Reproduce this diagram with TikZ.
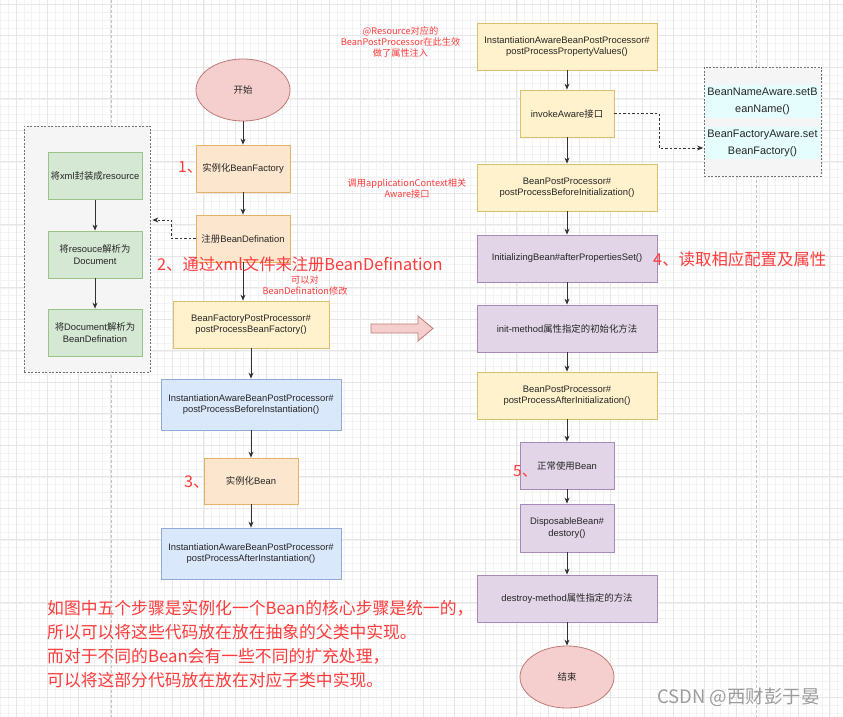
\documentclass[tikz,border=0pt]{standalone}
\usepackage{fontspec}
\setmainfont{Liberation Sans}
\newfontfamily\cjk{Noto Sans CJK SC}
\usetikzlibrary{shapes.geometric,arrows.meta}
\definecolor{orfill}{HTML}{FCE6CD}
\definecolor{orline}{HTML}{E2B266}
\definecolor{yefill}{HTML}{FFF2CC}
\definecolor{yeline}{HTML}{DCC070}
\definecolor{blfill}{HTML}{DAE8FC}
\definecolor{blline}{HTML}{91ABD6}
\definecolor{pufill}{HTML}{E1D5E7}
\definecolor{puline}{HTML}{A68BBA}
\definecolor{grfill}{HTML}{D5E8D4}
\definecolor{grline}{HTML}{9CC387}
\definecolor{pkfill}{HTML}{F5CFCD}
\definecolor{pkline}{HTML}{C07A76}
\definecolor{gpfill}{HTML}{F5F5F5}
\definecolor{gpline}{HTML}{707070}
\definecolor{cyfill}{HTML}{E6FDFE}
\definecolor{redt}{HTML}{FF3B3B}
\definecolor{txt}{HTML}{262626}
\definecolor{arrowc}{HTML}{333333}
\definecolor{gridmin}{HTML}{F3F3F3}
\definecolor{gridmaj}{HTML}{E6E6E6}
\definecolor{pageline}{HTML}{C4C4C4}
\definecolor{wmark}{HTML}{9C9C9C}
\tikzset{
  basebox/.style={draw, line width=0.8pt, text=txt, font=\fontsize{9.4}{11.5}\selectfont, align=center, inner sep=1pt},
  orangebox/.style={basebox, fill=orfill, draw=orline},
  yellowbox/.style={basebox, fill=yefill, draw=yeline},
  bluebox/.style={basebox, fill=blfill, draw=blline},
  purplebox/.style={basebox, fill=pufill, draw=puline},
  greenbox/.style={basebox, fill=grfill, draw=grline},
  pinkell/.style={basebox, ellipse, fill=pkfill, draw=pkline},
  groupbox/.style={draw=gpline, fill=gpfill, line width=0.7pt, dash pattern=on 2pt off 1.5pt},
  cyanrow/.style={fill=cyfill, text=txt, font=\fontsize{10.9}{17}\selectfont, align=center, inner sep=0pt},
  wsmall/.style={minimum width=94pt, minimum height=47pt},
  wlarge/.style={minimum width=180pt, minimum height=47pt},
  flow/.style={draw=arrowc, line width=0.8pt, -{Stealth[length=6pt,width=5pt]}},
  dflow/.style={flow, dash pattern=on 2.5pt off 2pt},
  redsmall/.style={text=redt, font=\cjk\fontsize{9.2}{11}\selectfont, align=center, inner sep=0pt},
  redbig/.style={text=redt, font=\cjk\fontsize{16.3}{20}\selectfont, inner sep=0pt, anchor=west},
  rednote/.style={text=redt, font=\cjk\fontsize{16.8}{20}\selectfont, inner sep=0pt, anchor=west},
}
\begin{document}
\begin{tikzpicture}[x=1pt,y=-1pt]
\useasboundingbox (0,0) rectangle (843,717);
\fill[white] (0,0) rectangle (843,717);
% grid
\foreach \gx in {0.35,8.175,...,843} \draw[gridmin, line width=0.6pt] (\gx,0) -- (\gx,717);
\foreach \gy in {4.3,12.175,...,717} \draw[gridmin, line width=0.6pt] (0,\gy) -- (843,\gy);
\foreach \gx in {16,47.3,...,843} \draw[gridmaj, line width=0.8pt] (\gx,0) -- (\gx,717);
\foreach \gy in {4.3,35.8,...,717} \draw[gridmaj, line width=0.8pt] (0,\gy) -- (843,\gy);
% page break lines
\draw[pageline, line width=0.7pt, dash pattern=on 3pt off 2pt] (111,0) -- (111,717);
\draw[pageline, line width=0.7pt, dash pattern=on 3pt off 2pt] (756.5,0) -- (756.5,717);

% left group
\node[groupbox, minimum width=126pt, minimum height=246pt] (lg) at (87,249) {};
\node[greenbox, wsmall] (g1) at (95,176) {{\cjk 将}xml{\cjk 封装成}resource};
\node[greenbox, wsmall] (g2) at (95,254.5) {{\cjk 将}resouce{\cjk 解析为}\\Document};
\node[greenbox, wsmall] (g3) at (95,332.5) {{\cjk 将}Document{\cjk 解析为}\\BeanDefination};
\draw[flow] (g1) -- (g2);
\draw[flow] (g2) -- (g3);

% left main column
\node[pinkell, minimum width=94pt, minimum height=62pt] (start) at (243,90) {{\cjk 开始}};
\node[orangebox, wsmall] (n1) at (243,168.5) {{\cjk 实例化}BeanFactory};
\node[orangebox, wsmall] (n2) at (243,238.5) {{\cjk 注册}BeanDefination};
\node[yellowbox, minimum width=156pt, minimum height=47pt] (bfp) at (251,324.5) {BeanFactoryPostProcessor\#\\postProcessBeanFactory()};
\node[bluebox, minimum width=180pt, minimum height=51pt] (iab) at (251,404.5) {InstantiationAwareBeanPostProcessor\#\\postProcessBeforeInstantiation()};
\node[orangebox, minimum width=94pt, minimum height=46pt] (inst) at (251,481) {{\cjk 实例化}Bean};
\node[bluebox, minimum width=180pt, minimum height=51pt] (iaa) at (251,553.5) {InstantiationAwareBeanPostProcessor\#\\postProcessAfterInstantiation()};

\draw[flow] (start) -- (n1);
\draw[flow] (n1) -- (n2);
\draw[flow] (n2.south) -- (n2.south |- bfp.north);
\draw[flow] (bfp) -- (iab);
\draw[flow] (iab) -- (inst);
\draw[flow] (inst) -- (iaa);
\draw[dflow, shorten >=2pt] (n2.west) -- ([xshift=-24pt]n2.west) |- ([yshift=29pt]lg.east);

% block arrow
\filldraw[fill=pkfill, draw=pkline, line width=0.8pt] (371,324) -- (418,324) -- (418,316) -- (433,328.5) -- (418,341) -- (418,333) -- (371,333) -- cycle;

% right column
\node[yellowbox, wlarge] (pv) at (567,46.5) {InstantiationAwareBeanPostProcessor\#\\postProcessPropertyValues()};
\node[yellowbox, wsmall] (ia) at (567,113.5) {invokeAware{\cjk 接口}};
\node[yellowbox, wlarge] (bpb) at (567,187.5) {BeanPostProcessor\#\\postProcessBeforeInitialization()};
\node[purplebox, wlarge] (ib) at (567,258.5) {InitializingBean\#afterPropertiesSet()};
\node[purplebox, wlarge] (im) at (567,328.5) {init-method{\cjk 属性指定的初始化方法}};
\node[yellowbox, wlarge] (bpa) at (567,395.5) {BeanPostProcessor\#\\postProcessAfterInitialization()};
\node[purplebox, wsmall] (use) at (567,465.5) {{\cjk 正常使用}Bean};
\node[purplebox, minimum width=94pt, minimum height=48pt] (disp) at (567,528) {DisposableBean\#\\destory()};
\node[purplebox, wlarge] (dm) at (567,598.5) {destroy-method{\cjk 属性指定的方法}};
\node[pinkell, minimum width=94pt, minimum height=62pt] (end) at (567,677) {{\cjk 结束}};

\draw[flow] (pv) -- (ia);
\draw[flow] (ia) -- (bpb);
\draw[flow] (bpb) -- (ib);
\draw[flow] (ib) -- (im);
\draw[flow] (im) -- (bpa);
\draw[flow] (bpa) -- (use);
\draw[flow] (use) -- (disp);
\draw[flow] (disp) -- (dm);
\draw[flow] (dm) -- (end);

% aware group
\node[groupbox, minimum width=117pt, minimum height=109pt] (awg) at (762.5,121.5) {};
\node[cyanrow, minimum width=115pt, minimum height=33pt] (r1) at (762.5,101.5) {BeanNameAware.setB\\eanName()};
\node[cyanrow, minimum width=115pt, minimum height=32pt] (r2) at (762.5,143) {BeanFactoryAware.set\\BeanFactory()};
\draw[dflow, shorten >=0.5pt] (ia.east) -- (659,113.5) |- ([yshift=-26.5pt]awg.west);

% red annotations
\node[redsmall] (t1) at (400.5,42) {@Resource对应的\\BeanPostProcessor在此生效\\做了属性注入};
\node[redsmall] (t2) at (407,188.5) {调用applicationContext相关\\Aware接口};
\node[redsmall] (t3) at (305,285.5) {可以对\\BeanDefination修改};
\node[redbig, font=\cjk\fontsize{15.5}{20}\selectfont] (s1) at (178,167) {1、};
\node[redbig] (s2) at (157,264) {2、通过xml文件来注册BeanDefination};
\node[redbig, font=\cjk\fontsize{16.2}{20}\selectfont] (s3) at (184,482) {3、};
\node[redbig, font=\cjk\fontsize{16.4}{20}\selectfont] (s4) at (653,259) {4、读取相应配置及属性};
\node[redbig, font=\cjk\fontsize{15.5}{20}\selectfont] (s5) at (513,471) {5、};

\node[rednote] (b1) at (47,608) {如图中五个步骤是实例化一个Bean的核心步骤是统一的，};
\node[rednote] (b2) at (47,632) {所以可以将这些代码放在放在抽象的父类中实现。};
\node[rednote] (b3) at (47,656) {而对于不同的Bean会有一些不同的扩充处理，};
\node[rednote] (b4) at (47,680) {可以将这部分代码放在放在对应子类中实现。};

\node[text=wmark, font=\cjk\fontsize{18.5}{22}\selectfont, anchor=west, inner sep=0pt] (wm) at (657,697) {CSDN @西财彭于晏};
\end{tikzpicture}
\end{document}
